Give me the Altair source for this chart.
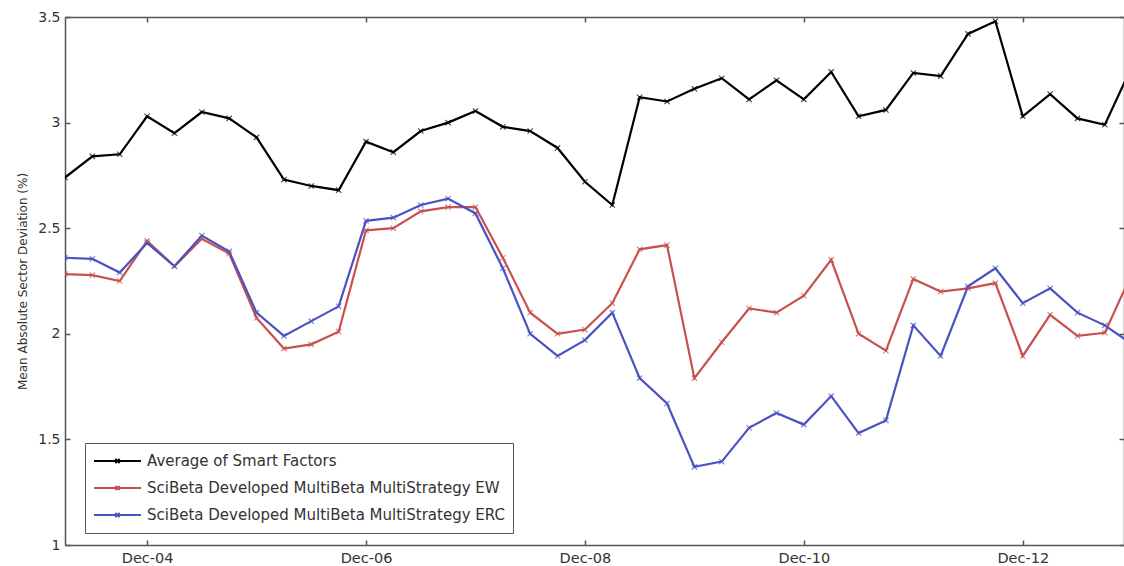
import altair as alt
import pandas as pd

# Quarterly observations, index 0 = Mar-04 ... 39 = Dec-13
quarter_index = list(range(40))

avg_smart = [2.74, 2.84, 2.85, 3.03, 2.95, 3.05, 3.02, 2.93, 2.73, 2.70,
             2.68, 2.91, 2.86, 2.96, 3.00, 3.055, 2.98, 2.96, 2.88, 2.72,
             2.61, 3.12, 3.10, 3.16, 3.21, 3.11, 3.20, 3.11, 3.24, 3.03,
             3.06, 3.235, 3.22, 3.42, 3.48, 3.03, 3.135, 3.02, 2.99, 3.27]

ew = [2.283, 2.278, 2.25, 2.44, 2.32, 2.45, 2.38, 2.075, 1.93, 1.95,
      2.01, 2.49, 2.50, 2.58, 2.60, 2.60, 2.36, 2.10, 2.00, 2.02,
      2.145, 2.40, 2.42, 1.79, 1.96, 2.12, 2.10, 2.18, 2.35, 2.00,
      1.92, 2.26, 2.20, 2.215, 2.24, 1.895, 2.09, 1.99, 2.005, 2.29]

erc = [2.36, 2.355, 2.29, 2.43, 2.32, 2.465, 2.39, 2.10, 1.99, 2.06,
       2.13, 2.535, 2.55, 2.61, 2.64, 2.57, 2.31, 2.00, 1.895, 1.97,
       2.10, 1.79, 1.67, 1.37, 1.395, 1.555, 1.625, 1.57, 1.705, 1.53,
       1.59, 2.04, 1.895, 2.225, 2.31, 2.145, 2.215, 2.10, 2.04, 1.95]

series_names = ["Average of Smart Factors",
                "SciBeta Developed MultiBeta MultiStrategy EW",
                "SciBeta Developed MultiBeta MultiStrategy ERC"]
series_colors = ["#000000", "#c8504f", "#4a52c0"]

x_tick_values = [3, 11, 19, 27, 35]
x_tick_labels = ["Dec-04", "Dec-06", "Dec-08", "Dec-10", "Dec-12"]
y_tick_values = [1, 1.5, 2, 2.5, 3, 3.5]
y_title = "Mean Absolute Sector Deviation (%)"

rows = []
for name, vals in zip(series_names, [avg_smart, ew, erc]):
    for q, v in zip(quarter_index, vals):
        rows.append({"q": q, "series": name, "value": v})
df = pd.DataFrame(rows)

W, H = 1059, 528
x_dom = [0, 38.7]
y_dom = [1, 3.5]
FONT = "DejaVu Sans"
AX = "#555555"
TXT = "#333333"

label_expr = " : ".join(
    f"datum.value == {v} ? '{l}'" for v, l in zip(x_tick_values, x_tick_labels)
) + " : ''"

legend_symbol = "M-1,0H1M-0.09,-0.09L0.09,0.09M-0.09,0.09L0.09,-0.09"

color_main = alt.Color(
    "series:N",
    scale=alt.Scale(domain=series_names, range=series_colors),
    sort=series_names,
    legend=alt.Legend(
        title=None, orient="none", legendX=20, legendY=426,
        direction="vertical", strokeColor=AX, fillColor="white",
        padding=8, symbolType=legend_symbol, symbolSize=2209,
        symbolStrokeWidth=2, clipHeight=20, rowPadding=7, labelOffset=5,
        labelFont=FONT, labelFontSize=15, labelColor=TXT, labelLimit=0,
    ),
)

base = alt.Chart(df)

lines = base.mark_line(strokeWidth=2.2, clip=True).encode(
    x=alt.X("q:Q", scale=alt.Scale(domain=x_dom, nice=False, zero=False),
            axis=alt.Axis(orient="bottom", values=x_tick_values, labelExpr=label_expr,
                          ticks=False, tickSize=0, domain=True, domainColor=AX,
                          domainWidth=1.5, grid=False, title=None, labelFont=FONT,
                          labelFontSize=14.5, labelColor=TXT, labelPadding=6)),
    y=alt.Y("value:Q", scale=alt.Scale(domain=y_dom, nice=False, zero=False),
            axis=alt.Axis(orient="left", values=y_tick_values, format="~g",
                          ticks=False, tickSize=0,
                          domain=True, domainColor=AX, domainWidth=1.5, grid=False,
                          labelFont=FONT, labelFontSize=14, labelColor=TXT,
                          labelPadding=5, title=y_title, titleFont=FONT,
                          titleFontSize=12, titleFontWeight="normal", titleColor=TXT,
                          titleX=-43, titleY=H / 2, titleAlign="center",
                          titleBaseline="middle", titleAngle=270)),
    color=color_main,
)

points = base.mark_point(shape="M-1,-1L1,1M-1,1L1,-1", size=28, filled=False,
                         strokeWidth=1.2, clip=True).encode(
    x=alt.X("q:Q", scale=alt.Scale(domain=x_dom, nice=False, zero=False),
            axis=alt.Axis(orient="top", offset=-H, values=x_tick_values, labels=False,
                          domain=False, ticks=True, tickSize=5, tickColor=AX,
                          tickWidth=1.5, grid=False, title=None)),
    y=alt.Y("value:Q", scale=alt.Scale(domain=y_dom, nice=False, zero=False),
            axis=alt.Axis(orient="right", offset=-W, values=y_tick_values, labels=False,
                          domain=False, ticks=True, tickSize=5, tickColor=AX,
                          tickWidth=1.5, grid=False, title=None)),
    color=alt.Color("series:N", scale=alt.Scale(domain=series_names, range=series_colors),
                    legend=None),
)

border = base.mark_point(opacity=0, clip=True).encode(
    x=alt.X("q:Q", scale=alt.Scale(domain=x_dom, nice=False, zero=False),
            axis=alt.Axis(orient="bottom", offset=-H, values=x_tick_values, labels=False,
                          domain=True, domainColor=AX, domainWidth=1.5, ticks=True,
                          tickSize=5, tickColor=AX, tickWidth=1.5, grid=False, title=None)),
    y=alt.Y("value:Q", scale=alt.Scale(domain=y_dom, nice=False, zero=False),
            axis=alt.Axis(orient="left", offset=-W, values=y_tick_values, labels=False,
                          domain=True, domainColor=AX, domainWidth=1.5, ticks=True,
                          tickSize=5, tickColor=AX, tickWidth=1.5, grid=False, title=None)),
)

chart = alt.layer(lines, points, border).resolve_scale(
    x="independent", y="independent"
).properties(
    width=W, height=H,
    autosize=alt.AutoSizeParams(type="none"),
    padding={"left": 65, "top": 17, "right": 0, "bottom": 21},
    background="white",
).configure_view(stroke=None)

chart.save("out.html", embed_options={"renderer": "svg", "actions": False})
